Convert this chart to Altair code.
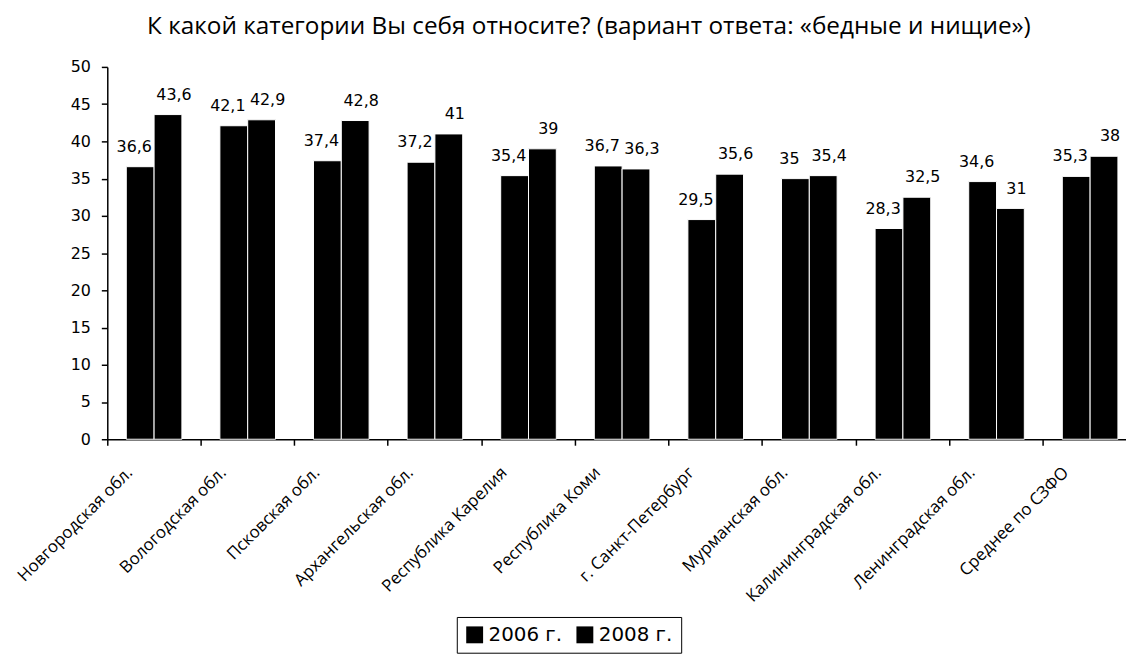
import altair as alt
import pandas as pd

categories = [
    "Новгородская обл.", "Вологодская обл.", "Псковская обл.", "Архангельская обл.",
    "Республика Карелия", "Республика Коми", "г. Санкт-Петербург", "Мурманская обл.",
    "Калининградская обл.", "Ленинградская обл.", "Среднее по СЗФО",
]
series = ["2006 г.", "2008 г."]
values_2006 = [36.6, 42.1, 37.4, 37.2, 35.4, 36.7, 29.5, 35.0, 28.3, 34.6, 35.3]
values_2008 = [43.6, 42.9, 42.8, 41.0, 39.0, 36.3, 35.6, 35.4, 32.5, 31.0, 38.0]
y_ticks = [0, 5, 10, 15, 20, 25, 30, 35, 40, 45, 50]

rows = []
for c, a, b in zip(categories, values_2006, values_2008):
    for s, v in zip(series, [a, b]):
        rows.append({"cat": c, "series": s, "value": v,
                     "label": f"{v:g}".replace(".", ",")})
df = pd.DataFrame(rows)

FONT = "DejaVu Sans"

x_enc = alt.X("cat:N", sort=categories,
              scale=alt.Scale(paddingInner=0, paddingOuter=0, range=[0, 1037]),
              axis=alt.Axis(title=None, labelAngle=-45, labelAlign="right",
                            labelBaseline="top", bandPosition=0, labelOffset=-30,
                            labelPadding=19, labelLimit=0, tickSize=6,
                            tickColor="black", domainColor="black",
                            domainWidth=1.5, tickWidth=1.5,
                            labelFont="Open Sans", labelFontSize=17,
                            labelColor="black"))
xo_enc = alt.XOffset("series:N", sort=series,
                     scale=alt.Scale(paddingInner=0, paddingOuter=0.683))
y_enc = alt.Y("value:Q",
              scale=alt.Scale(domain=[0, 50], nice=False, zero=True),
              axis=alt.Axis(title=None, values=y_ticks, grid=False, tickSize=6,
                            tickColor="black", domainColor="black",
                            domainWidth=1.5, tickWidth=1.5, labelPadding=11,
                            labelFont=FONT, labelFontSize=16, labelColor="black"))

base = alt.Chart(df).encode(x=x_enc, xOffset=xo_enc, y=y_enc)

bars = base.mark_bar(stroke="white", strokeWidth=1).encode(
    color=alt.Color("series:N", sort=series,
                    scale=alt.Scale(domain=series, range=["black", "black"]),
                    legend=alt.Legend(title=None, orient="none", direction="horizontal",
                                      legendX=352, legendY=554,
                                      symbolType="square", symbolSize=289,
                                      symbolStrokeWidth=0, labelFont=FONT,
                                      labelFontSize=20, labelColor="black",
                                      labelOffset=4, columnPadding=12,
                                      strokeColor="black", padding=8,
                                      fillColor="white"))
)

labels_2006 = base.mark_text(baseline="alphabetic", dy=-15, dx=-6, font=FONT,
                             fontSize=16, color="black").encode(
    text="label:N").transform_filter(alt.datum.series == series[0])
labels_2008 = base.mark_text(baseline="alphabetic", dy=-15, dx=6, font=FONT,
                             fontSize=16, color="black").encode(
    text="label:N").transform_filter(alt.datum.series == series[1])

chart = (bars + labels_2006 + labels_2008).properties(
    width=1026, height=375,
    autosize=alt.AutoSizeParams(type="none"),
    padding={"left": 100, "top": 57, "right": 0, "bottom": 220},
    title=alt.TitleParams(
        "К какой категории Вы себя относите? (вариант ответа: «бедные и нищие»)",
        anchor="start", frame="group", dx=40, offset=20, font="Open Sans",
        fontSize=24.5, fontWeight="normal", color="black"),
).configure_view(stroke=None)

chart.save("out.html", embed_options={"renderer": "svg", "actions": False})
